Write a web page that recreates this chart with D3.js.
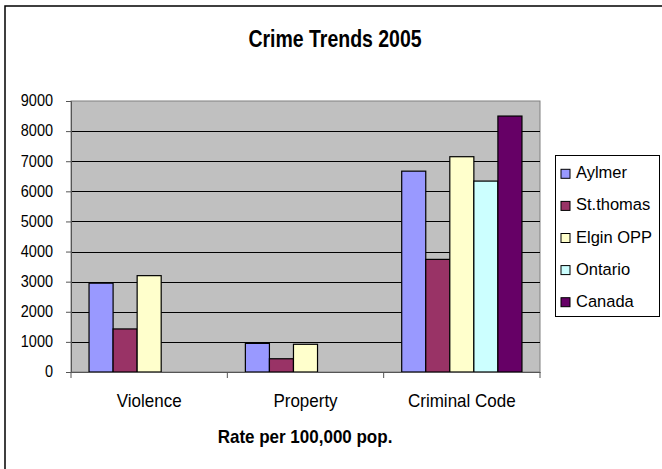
<!DOCTYPE html>
<html><head><meta charset="utf-8">
<script src="https://cdn.jsdelivr.net/npm/d3@7"></script>
<style>body{margin:0;background:#fff;}svg{display:block;font-family:"Liberation Sans",Arial,sans-serif;}</style>
</head><body>
<svg id="c" width="662" height="469"></svg>
<script>
const categories = ["Violence", "Property", "Criminal Code"];
const seriesNames = ["Aylmer", "St.thomas", "Elgin OPP", "Ontario", "Canada"];
const seriesColors = ["#9999FF", "#993366", "#FFFFCC", "#CCFFFF", "#660066"];
const aylmer = [2950, 950, 6670];
const stthomas = [1430, 440, 3740];
const elginOPP = [3200, 920, 7150];
const ontario = [0, 0, 6340];
const canada = [0, 0, 8500];
const yTicks = [0, 1000, 2000, 3000, 4000, 5000, 6000, 7000, 8000, 9000];
const seriesValues = [aylmer, stthomas, elginOPP, ontario, canada];

const svg = d3.select("#c");
// stretched text helper (reference text is slightly taller than wide)
function stext(parent, x, y, str, size, k, opts = {}) {
  const t = parent.append("text")
    .attr("transform", `translate(${x},${y}) scale(1,${k})`)
    .attr("font-size", size).attr("fill", "#000")
    .attr("text-anchor", opts.anchor || "start")
    .text(str);
  if (opts.bold) t.attr("font-weight", "bold");
  return t;
}

// outer frame
svg.append("rect").attr("x", 5).attr("y", 6).attr("width", 700).attr("height", 500)
  .attr("fill", "#fff").attr("stroke", "#000").attr("stroke-width", 1.5);

const L = 71, R = 540, T = 101, B = 372;
const x0 = d3.scaleBand().domain(categories).range([L, R]);
const bw = x0.bandwidth() / 6.5;
const x1 = d3.scaleBand().domain(seriesNames).range([bw * 0.75, bw * 5.75]);
const y = d3.scaleLinear().domain([0, 9000]).range([B, T]);

// plot area
svg.append("rect").attr("x", L).attr("y", T).attr("width", R - L).attr("height", B - T)
  .attr("fill", "#C0C0C0").attr("stroke", "#808080").attr("stroke-width", 1);

// gridlines
svg.append("g").selectAll("line").data(yTicks.filter(d => d > 0 && d < 9000)).join("line")
  .attr("x1", L).attr("x2", R).attr("y1", d => Math.round(y(d)) + 0.5).attr("y2", d => Math.round(y(d)) + 0.5)
  .attr("stroke", "#000").attr("stroke-width", 1);

// bars
const g = svg.append("g");
categories.forEach((c, ci) => {
  seriesNames.forEach((s, si) => {
    const v = seriesValues[si][ci];
    if (!v) return;
    g.append("rect")
      .attr("x", x0(c) + x1(s)).attr("width", x1.bandwidth())
      .attr("y", y(v)).attr("height", y(0) - y(v))
      .attr("fill", seriesColors[si]).attr("stroke", "#000").attr("stroke-width", 1.2);
  });
});

// y axis
const ya = svg.append("g").attr("transform", `translate(${L},0)`)
  .call(d3.axisLeft(y).tickValues(yTicks).tickSize(5).tickPadding(13).tickFormat(d3.format("d")));
ya.select(".domain").attr("stroke", "#555");
ya.selectAll(".tick line").attr("stroke", "#555");
ya.selectAll("text").attr("font-size", 14.5).attr("fill", "#000")
  .attr("transform", "scale(1,1.1)").attr("dy", "0.3em");

// x axis
const xa = svg.append("g").attr("transform", `translate(0,${B})`)
  .call(d3.axisBottom(x0).tickSize(0).tickFormat(""));
xa.select(".domain").attr("stroke", "#555");
svg.append("g").selectAll("line").data([L, ...categories.map(c => x0(c) + x0.bandwidth())]).join("line")
  .attr("x1", d => d).attr("x2", d => d).attr("y1", B).attr("y2", B + 6).attr("stroke", "#555");
categories.forEach(c => {
  stext(svg, x0(c) + x0.bandwidth() / 2, 406.5, c, 17, 1.08, { anchor: "middle" });
});

// title
stext(svg, 335, 47, "Crime Trends 2005", 19.5, 1.2, { anchor: "middle", bold: true });
stext(svg, 305, 442.5, "Rate per 100,000 pop.", 17, 1.1, { anchor: "middle", bold: true });

// legend
const lg = svg.append("g");
lg.append("rect").attr("x", 555.5).attr("y", 155.5).attr("width", 104).attr("height", 161)
  .attr("fill", "#fff").attr("stroke", "#000");
seriesNames.forEach((s, i) => {
  const by = 178.3 + i * 32.1;
  lg.append("rect").attr("x", 561).attr("y", by - 9).attr("width", 9).attr("height", 9)
    .attr("fill", seriesColors[i]).attr("stroke", "#000").attr("stroke-width", 1);
  stext(lg, 576, by, s, 16.5, 1.04);
});
</script>
</body></html>
